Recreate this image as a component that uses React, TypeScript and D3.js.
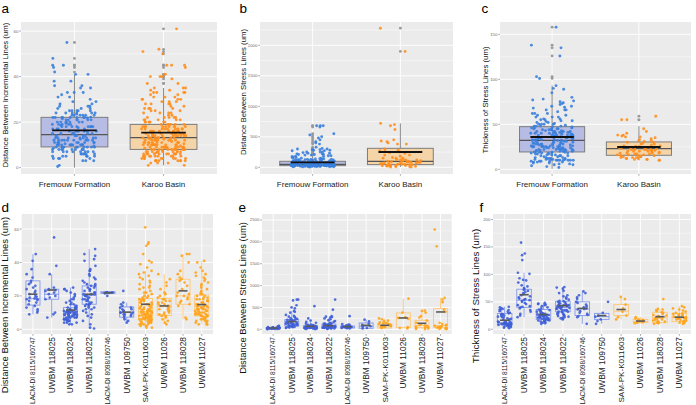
import React from "react";
import * as d3 from "d3";

// ---------- categories ----------
const specimens = [
  "LACM-DI 8115/160747",
  "UWBM 118025",
  "UWBM 118024",
  "UWBM 118022",
  "LACM-DI 8098/160746",
  "UWBM 109750",
  "SAM-PK-K011603",
  "UWBM 11026",
  "UWBM 118028",
  "UWBM 11027",
];
const specimenFormation = [0, 0, 0, 0, 0, 0, 1, 1, 1, 1];
const formations = ["Fremouw Formation", "Karoo Basin"];

// ---------- distance between incremental lines (um) ----------
const inc8115 = [45, 41, 36, 33, 31, 29, 28, 27, 26, 25, 24, 23, 22, 21, 20, 19.5, 19, 18.5, 18, 18, 17.5, 17, 16, 15, 14, 13, 12, 11, 10, 9];
const inc118025 = [55, 38, 33, 25, 24, 23.5, 23, 22, 21, 20, 19, 18, 10, 9, 7];
const inc118024 = [25, 24, 24, 23, 22, 21, 20, 19, 18, 18, 17, 16, 16, 15, 15, 14, 14, 13, 13, 13, 12, 12, 12, 12, 11, 11, 11, 11, 11, 10, 10, 10, 10, 10, 10, 9, 9, 9, 9, 9, 9, 8, 8, 8, 8, 8, 8, 7, 7, 7, 7, 7, 6, 6, 6, 6, 6, 5, 5, 5, 5, 4, 4, 4, 3, 3, 12.5, 9.5, 10.5, 8.5];
const inc118022 = [48, 45, 44, 42, 41, 38, 36, 35, 35, 33, 32, 31, 30, 29, 28, 27, 27, 26, 26, 25, 25, 24, 24, 23, 23, 22, 22, 21, 21, 21, 20, 20, 20, 19, 19, 18, 18, 18, 17, 17, 16, 16, 15, 15, 15, 14, 14, 13, 13, 12, 12, 11, 10, 9, 8, 7, 5, 3, 1, 0.5];
const inc8098 = [22, 22, 22, 21.8, 22.2, 21.5, 20];
const inc109750 = [23, 16, 15, 14, 13, 13, 12, 12, 11, 11, 10, 10, 10, 9, 9, 9, 8, 8, 7, 6, 5, 4];
const incSAM = [61, 52, 51, 50, 45, 41, 40, 39, 37, 35, 34, 33, 32, 31, 30, 29, 28, 27, 26, 25, 25, 24, 23, 22, 22, 21, 20, 20, 19, 19, 18, 18, 18, 17, 17, 17, 16, 16, 16, 15, 15, 15, 14, 14, 14, 13, 13, 13, 12, 12, 12, 12, 11, 11, 11, 11, 10, 10, 10, 10, 10, 9, 9, 9, 9, 9, 8, 8, 8, 8, 8, 8, 7, 7, 7, 7, 7, 7, 6, 6, 6, 6, 6, 6, 5, 5, 5, 5, 5, 4, 4, 4, 4, 4, 3, 3, 3, 3, 2, 2, 2, 1, 1, 10.5, 11.5, 12.5, 9.5, 8.5, 7.5, 6.5];
const inc11026 = [33, 30, 28, 26, 24, 22, 21, 20, 19, 18, 18, 17, 17, 16, 16, 15, 15, 14, 14, 14, 13, 13, 13, 12, 12, 11, 11, 10, 10, 9, 9, 8, 8, 7, 6, 5, 4, 3];
const inc118028 = [45, 45, 44, 40, 35, 33, 31, 30, 29, 28, 26, 24, 22, 21, 20, 20, 19, 18, 17, 16, 15, 14, 7, 6];
const inc11027 = [41, 40, 37, 35, 34, 33, 32, 31, 30, 29, 28, 27, 26, 25, 24, 23, 22, 21, 21, 20, 20, 19, 19, 18, 18, 18, 17, 17, 17, 16, 16, 16, 15, 15, 15, 14, 14, 14, 14, 13, 13, 13, 13, 12, 12, 12, 12, 11, 11, 11, 11, 10, 10, 10, 10, 9, 9, 9, 9, 8, 8, 8, 8, 7, 7, 7, 6, 6, 6, 5, 5, 5, 4, 4, 3, 3, 3, 12.5, 10.5, 8.5];
const incBySpecimen = [inc8115, inc118025, inc118024, inc118022, inc8098, inc109750, incSAM, inc11026, inc118028, inc11027];
// box summaries per specimen (q1, median, q3, whisker low, whisker high, mean)
const incQ1 = [14.5, 18, 7, 15, 21.5, 7.3, 6.3, 8.3, 15, 8];
const incMed = [18.3, 21, 10.5, 20.3, 22, 10, 10.6, 13.6, 20, 13.6];
const incQ3 = [29, 24, 13, 26, 22.5, 13.4, 18.5, 18.5, 30, 20.5];
const incLo = [9, 7, 3, 0.5, 21, 4, 1, 3, 6, 3];
const incHi = [45, 33, 25, 48, 22.5, 16, 35, 33, 45, 41];
const incMean = [21, 23.5, 11.5, 21, 21.8, 10.3, 15, 14, 23, 14.8];
// per formation
const incFQ1 = [9.1, 8];
const incFMed = [14.5, 13.2];
const incFQ3 = [22.1, 19];
const incFLo = [0, 1];
const incFHi = [41, 35];
const incFMean = [16.4, 15.4];

// ---------- distance between stress lines (um) ----------
const str8115 = [80, 70, 60, 55, 50, 45, 42, 40, 38, 35, 32, 30, 28, 26, 25, 24, 22, 20, 18, 16, 15, 14, 12, 10, 8, 6, 30, 35, 20, 25];
const str118025 = [680, 680, 660, 550, 500, 480, 420, 400, 380, 330, 310, 290, 280, 270, 250, 240, 230, 220, 215, 210, 200, 190, 180, 170, 160, 150, 140, 135, 130, 125, 120, 110, 100, 95, 90, 85, 80, 75, 70, 60, 55, 50, 45, 40, 30];
const str118024 = [530, 250, 200, 170, 150, 130, 110, 100, 95, 90, 85, 80, 75, 70, 65, 60, 55, 52, 50, 48, 45, 42, 40, 38, 35, 32, 30, 28, 25, 22, 20, 18, 15, 10, 5];
const str118022 = [680, 450, 300, 290, 280, 270, 250, 230, 210, 190, 170, 150, 140, 130, 125, 120, 115, 110, 105, 100, 95, 90, 85, 80, 75, 72, 70, 68, 65, 62, 60, 58, 55, 52, 50, 48, 45, 42, 40, 38, 36, 34, 32, 30, 28, 25, 22, 20, 15, 10];
const str8098 = [300, 120, 110, 100, 90, 80, 75, 70, 65, 60, 55, 52, 50, 48, 45, 40, 35, 30, 25, 20];
const str109750 = [220, 180, 130, 100, 70, 60, 30, 20];
const strSAM = [250, 230, 200, 180, 160, 150, 140, 130, 120, 110, 100, 90, 85, 80, 75, 70, 60, 50, 40, 30];
const str11026 = [700, 380, 280, 260, 240, 50, 30, 20];
const str118028 = [430, 420, 380, 300, 270, 200, 150, 120, 100, 85, 80, 60, 50, 40, 30, 20, 10, 5];
const str11027 = [2280, 1900, 720, 680, 620, 450, 400, 150, 120, 100, 90, 80, 70, 60, 50, 40, 30, 25, 20, 15, 10, 5];
const strBySpecimen = [str8115, str118025, str118024, str118022, str8098, str109750, strSAM, str11026, str118028, str11027];
const strQ1 = [12, 76, 23, 30, 30, 23, 30, 46, 38, 38];
const strMed = [25, 130, 53, 61, 53, 69, 76, 260, 84, 84];
const strQ3 = [40, 222, 84, 122, 76, 145, 122, 375, 206, 474];
const strLo = [5, 30, 5, 10, 20, 20, 30, 20, 5, 5];
const strHi = [80, 420, 170, 250, 120, 220, 250, 700, 430, 720];
const strMean = [30, 176, 69, 84, 61, 92, 92, 260, 138, 397];
const strFQ1 = [27, 44];
const strFMed = [49, 98];
const strFQ3 = [98, 311];
const strFLo = [0, 5];
const strFHi = [200, 720];
const strFMean = [82, 251];

// ---------- thickness of stress lines (um) ----------
const thk8115 = [41, 40, 38, 37, 36, 35, 34, 33, 32, 30, 29, 28, 27, 26, 25, 24, 23, 22, 21, 20, 19, 18, 17, 16, 15, 14, 13, 13, 12, 12, 12, 11, 11, 11, 11, 10, 10, 10, 10, 9, 9, 9, 9, 8, 8, 8, 7, 7, 6, 6, 5, 5, 4, 3, 2];
const thk118025 = [158, 138, 135, 126, 103, 101, 93, 90, 89, 85, 80, 78, 75, 73, 72, 70, 68, 66, 64, 62, 60, 58, 56, 55, 54, 53, 52, 50, 48, 46, 44, 42, 41, 40, 38, 35, 32, 28, 25, 22];
const thk118024 = [48, 47, 46, 45, 44, 42, 40, 38, 36, 35, 34, 33, 32, 31, 30, 29, 28, 28, 27, 27, 26, 26, 25, 25, 25, 24, 24, 23, 23, 22, 22, 21, 21, 20, 20, 19, 19, 18, 18, 17, 17, 16, 16, 15, 15, 14, 13, 12, 11, 10];
const thk118022 = [77, 76, 74, 70, 66, 62, 60, 58, 56, 54, 52, 51, 50, 49, 48, 47, 46, 45, 45, 44, 44, 43, 43, 42, 42, 41, 41, 40, 40, 39, 39, 38, 38, 37, 36, 35, 35, 34, 33, 32, 32, 31, 30, 29, 28, 27, 26, 25, 24, 23, 22, 21, 20, 19, 18];
const thk8098 = [69, 66, 62, 58, 55, 50, 48, 45, 42, 40, 38, 37, 36, 33, 30, 28, 26, 24, 22, 10];
const thk109750 = [50, 30, 25, 23, 18, 15, 10];
const thkSAM = [59, 55, 45, 38, 32, 25, 22, 18];
const thk11026 = [22, 20, 18, 17, 16, 15, 14, 13, 12, 11];
const thk118028 = [55, 37, 36, 35, 33, 31, 30, 28, 26, 25, 24, 23, 22, 21, 20, 19, 18, 17, 16, 15, 14, 13, 12, 11, 10];
const thk11027 = [42, 40, 38, 36, 34, 32, 30, 29, 28, 27, 26, 25, 24, 23, 22, 22, 21, 21, 20, 20, 19, 18, 17, 16, 15, 14, 13, 12, 11, 10];
const thkBySpecimen = [thk8115, thk118025, thk118024, thk118022, thk8098, thk109750, thkSAM, thk11026, thk118028, thk11027];
const thkQ1 = [8.6, 40, 18, 32, 25, 18, 25, 12, 12, 14];
const thkMed = [11.6, 53, 25.7, 40, 37, 23, 33, 14, 21, 21];
const thkQ3 = [28.7, 73, 36, 51, 50, 29, 45, 18, 31, 29];
const thkLo = [2, 22, 10, 18, 10, 10, 18, 11, 10, 10];
const thkHi = [41, 103, 48, 77, 69, 30, 59, 22, 37, 42];
const thkMean = [16.5, 63, 27, 43, 38, 25, 36, 15, 23, 22];
const thkFQ1 = [19.3, 15.6];
const thkFMed = [32.2, 23];
const thkFQ3 = [47.4, 30.4];
const thkFLo = [0.5, 10];
const thkFHi = [93, 48];
const thkFMean = [35.9, 24.8];

// ---------- axis ticks ----------
const incTicks = [0, 20, 40, 60];
const strTicks = [0, 500, 1000, 1500, 2000, 2500];
const thkTicks = [0, 50, 100, 150, 200];

const FONT = "'Liberation Sans', Arial, Helvetica, sans-serif";

type Stats = { q1: number[]; med: number[]; q3: number[]; lo: number[]; hi: number[]; mean: number[] };

const byFormation = (groups: number[][]) =>
  formations.map((_, f) => groups.filter((_, i) => specimenFormation[i] === f).flat());

const jit = (i: number, s: number) => {
  const v = Math.sin(i * 127.1 + s * 311.7 + 0.37) * 43758.5453;
  return v - Math.floor(v) - 0.5;
};

type PanelProps = {
  x0: number; x1: number; y0: number; y1: number;
  domain: [number, number];
  ticks: number[];
  labels: string[];
  colorIdx: number[];
  groups: number[][];
  stats: Stats;
  top: boolean;
  seed: number;
  title: string;
  titleX: number; titleY: number; titleSize: number;
  letter: string; letterX: number; letterY: number;
};

function Panel(p: PanelProps) {
  const x = d3.scalePoint<number>().domain(p.labels.map((_, i) => i)).range([p.x0, p.x1]).padding(0.6);
  const step = x.step();
  const y = d3.scaleLinear().domain(p.domain).range([p.y1, p.y0]);
  const ticks = p.ticks.filter((t) => t >= p.domain[0] && t <= p.domain[1]);
  const tstep = p.ticks[1] - p.ticks[0];
  const minor = p.ticks.map((t) => t + tstep / 2).filter((t) => t > p.domain[0] && t < p.domain[1]);
  const boxW = step * 0.75;
  const jw = p.top ? 0.5 : 0.7;

  const ptCol = p.top ? ["#3A7FDD", "#FF8E1E"] : ["#3F5FD8", "#FFA41C"];
  const boxFill = p.top ? ["#B6BCE4", "#F5D4A7"] : ["none", "none"];
  const boxStroke = p.top ? ["#7D7D7D", "#7D7D7D"] : ["#8499EA", "#FFC674"];
  const medCol = p.top ? ["#555555", "#555555"] : ["#8499EA", "#FFC674"];
  const meanCol = p.top ? "#111111" : "#5a5a5a";

  return (
    <g>
      <rect x={p.x0} y={p.y0} width={p.x1 - p.x0} height={p.y1 - p.y0} fill="#EBEBEB" />
      {minor.map((t) => (
        <line key={"mn" + t} x1={p.x0} x2={p.x1} y1={y(t)} y2={y(t)} stroke="#fff" strokeWidth={0.45} />
      ))}
      {ticks.map((t) => (
        <line key={"mj" + t} x1={p.x0} x2={p.x1} y1={y(t)} y2={y(t)} stroke="#fff" strokeWidth={0.9} />
      ))}
      {p.labels.map((_, i) => (
        <line key={"vg" + i} x1={x(i)!} x2={x(i)!} y1={p.y0} y2={p.y1} stroke="#fff" strokeWidth={0.9} />
      ))}
      {/* y axis */}
      {ticks.map((t) => (
        <g key={"yt" + t}>
          <line x1={p.x0 - 1.8} x2={p.x0} y1={y(t)} y2={y(t)} stroke="#555" strokeWidth={0.5} />
          <text x={p.x0 - 2.6} y={y(t)} dy="0.35em" textAnchor="end" fontSize={4.3} fill="#6a6a6a" fontFamily={FONT}>
            {t}
          </text>
        </g>
      ))}
      {/* x ticks */}
      {p.labels.map((lab, i) => (
        <line key={"xt" + i} x1={x(i)!} x2={x(i)!} y1={p.y1} y2={p.y1 + 1.8} stroke="#555" strokeWidth={0.5} />
      ))}
      {/* boxes */}
      {p.labels.map((_, i) => {
        const c = p.colorIdx[i];
        const cx = x(i)!;
        const s = p.stats;
        return (
          <g key={"bx" + i}>
            <line x1={cx} x2={cx} y1={y(s.q3[i])} y2={y(s.hi[i])} stroke={boxStroke[c]} strokeWidth={0.9} />
            <line x1={cx} x2={cx} y1={y(s.q1[i])} y2={y(s.lo[i])} stroke={boxStroke[c]} strokeWidth={0.9} />
            <rect x={cx - boxW / 2} y={y(s.q3[i])} width={boxW} height={Math.max(0.5, y(s.q1[i]) - y(s.q3[i]))}
              fill={boxFill[c]} stroke={boxStroke[c]} strokeWidth={p.top ? 1 : 0.9} />
            <line x1={cx - boxW / 2} x2={cx + boxW / 2} y1={y(s.med[i])} y2={y(s.med[i])} stroke={medCol[c]} strokeWidth={p.top ? 1.3 : 1} />
            {p.top &&
              p.groups[i]
                .filter((v) => v > s.hi[i] || v < s.lo[i])
                .map((v, k) => <circle key={"o" + k} cx={cx} cy={y(v)} r={1.4} fill="#9a9a9a" />)}
          </g>
        );
      })}
      {/* jittered points */}
      {p.groups.map((vals, i) =>
        vals.map((v, k) => (
          <circle key={"p" + i + "_" + k} cx={x(i)! + jit(k, p.seed + i * 7) * jw * step} cy={y(v)}
            r={p.top ? 1.45 : 1.35} fill={ptCol[p.colorIdx[i]]} fillOpacity={0.9} />
        ))
      )}
      {/* means */}
      {p.labels.map((_, i) => {
        const cx = x(i)!;
        const hw = p.top ? step * 0.25 : step * 0.24;
        return (
          <line key={"mean" + i} x1={cx - hw} x2={cx + hw} y1={y(p.stats.mean[i])} y2={y(p.stats.mean[i])}
            stroke={meanCol} strokeWidth={p.top ? 1.8 : 1.6} />
        );
      })}
      {/* x labels */}
      {p.labels.map((lab, i) => {
        const cx = x(i)!;
        if (p.top) {
          return (
            <text key={"xl" + i} x={cx} y={p.y1 + 12.5} textAnchor="middle" fontSize={8} fill="#222" fontFamily={FONT}>
              {lab}
            </text>
          );
        }
        const fs = lab.startsWith("LACM") ? 6.6 : lab.startsWith("SAM") ? 8.1 : 8.4;
        return (
          <text key={"xl" + i} transform={`translate(${cx},${p.y1 + 3}) rotate(-90)`} dy="0.35em" textAnchor="end"
            fontSize={fs} fill="#222" fontFamily={FONT}>
            {lab}
          </text>
        );
      })}
      {/* y title */}
      <text transform={`translate(${p.titleX},${p.titleY}) rotate(-90)`} dy="0.35em" textAnchor="middle"
        fontSize={p.titleSize} fill="#111" fontFamily={FONT}>
        {p.title}
      </text>
      <text x={p.letterX} y={p.letterY} fontSize={13.5} fill="#000" fontFamily={FONT}>
        {p.letter}
      </text>
    </g>
  );
}

export default function App() {
  const topCols = [0, 1];
  const mk = (q1: number[], med: number[], q3: number[], lo: number[], hi: number[], mean: number[]): Stats => ({ q1, med, q3, lo, hi, mean });
  return (
    <svg width={696} height={405} style={{ position: "absolute", left: 0, top: 0, background: "#fff" }}>
      <rect width={696} height={405} fill="#fff" />
      <Panel x0={21} x1={217} y0={22} y1={174} domain={[-2.8, 64]} ticks={incTicks} labels={formations}
        colorIdx={topCols} groups={byFormation(incBySpecimen)} stats={mk(incFQ1, incFMed, incFQ3, incFLo, incFHi, incFMean)}
        top seed={1} title="Distance Between Incremental Lines (um)" titleX={5} titleY={95} titleSize={7.8}
        letter="a" letterX={1.5} letterY={13} />
      <Panel x0={260} x1={453} y0={22} y1={174} domain={[-110, 2382]} ticks={strTicks} labels={formations}
        colorIdx={topCols} groups={byFormation(strBySpecimen)} stats={mk(strFQ1, strFMed, strFQ3, strFLo, strFHi, strFMean)}
        top seed={2} title="Distance Between Stress Lines (um)" titleX={243.5} titleY={92} titleSize={7.8}
        letter="b" letterX={239.5} letterY={13} />
      <Panel x0={500} x1={691} y0={22} y1={174} domain={[-5.2, 163.7]} ticks={thkTicks} labels={formations}
        colorIdx={topCols} groups={byFormation(thkBySpecimen)} stats={mk(thkFQ1, thkFMed, thkFQ3, thkFLo, thkFHi, thkFMean)}
        top seed={3} title="Thickness of Stress Lines (um)" titleX={485} titleY={100} titleSize={7.8}
        letter="c" letterX={481.5} letterY={13} />
      <Panel x0={21.7} x1={213} y0={214} y1={334} domain={[-2.8, 69]} ticks={incTicks} labels={specimens}
        colorIdx={specimenFormation} groups={incBySpecimen} stats={mk(incQ1, incMed, incQ3, incLo, incHi, incMean)}
        top={false} seed={4} title="Distance Between Incremental Lines (um)" titleX={5} titleY={305} titleSize={9.5}
        letter="d" letterX={1.5} letterY={212} />
      <Panel x0={262} x1={451.7} y0={214} y1={334} domain={[-107, 2637]} ticks={strTicks} labels={specimens}
        colorIdx={specimenFormation} groups={strBySpecimen} stats={mk(strQ1, strMed, strQ3, strLo, strHi, strMean)}
        top={false} seed={5} title="Distance Between Stress Lines (um)" titleX={243} titleY={298} titleSize={9.4}
        letter="e" letterX={238.5} letterY={212} />
      <Panel x0={493} x1={691} y0={214} y1={334} domain={[-8.6, 210]} ticks={thkTicks} labels={specimens}
        colorIdx={specimenFormation} groups={thkBySpecimen} stats={mk(thkQ1, thkMed, thkQ3, thkLo, thkHi, thkMean)}
        top={false} seed={6} title="Thickness of Stress Lines (um)" titleX={476} titleY={296} titleSize={9.8}
        letter="f" letterX={479.5} letterY={212} />
    </svg>
  );
}
